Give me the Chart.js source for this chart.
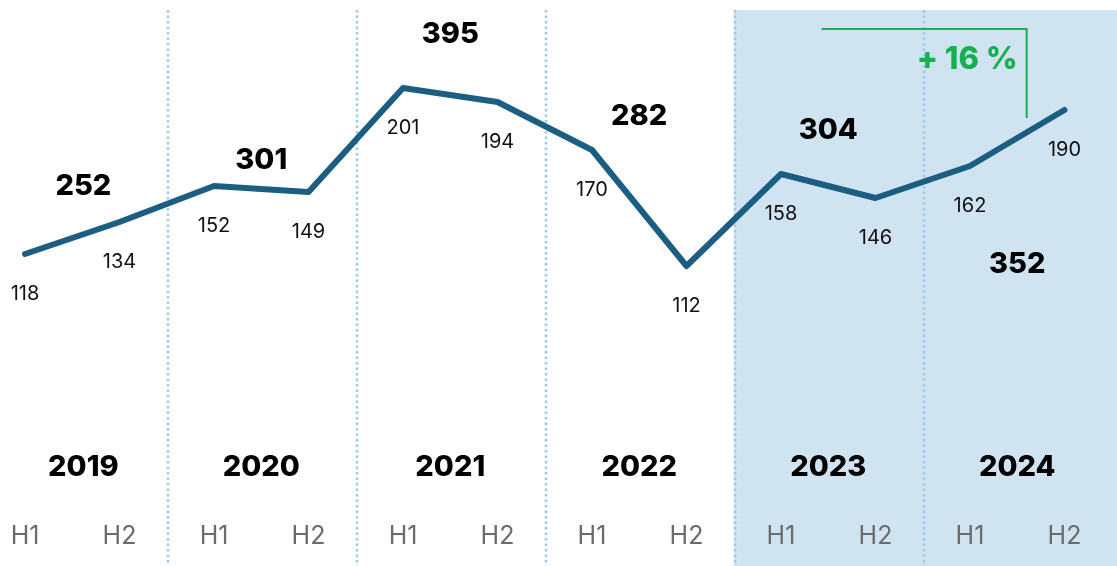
<!DOCTYPE html>
<html>
<head>
<meta charset="utf-8">
<script src="https://cdn.jsdelivr.net/npm/chart.js@4"></script>
<style>
  html, body { margin: 0; padding: 0; background: #fff; }
  #wrap { width: 1117px; height: 566px; }
</style>
</head>
<body>
<div id="wrap"><canvas id="halfYearChart" width="1117" height="566"></canvas></div>
<script>
// Halbjahreswerte
const halfLabels = ['H1', 'H2', 'H1', 'H2', 'H1', 'H2', 'H1', 'H2', 'H1', 'H2', 'H1', 'H2'];
const halfValues = [118, 134, 152, 149, 201, 194, 170, 112, 158, 146, 162, 190];

// Jahressummen
const years = ['2019', '2020', '2021', '2022', '2023', '2024'];
const yearTotals = [252, 301, 395, 282, 304, 352];
const totalLabelLevel = [152, 165, 228, 187, 180, 113]; // y-Position der Summen (Datenwerte)

const growthText = '+ 16 %';

const lineColor = '#1b5e82';
const shadeColor = '#cfe3f1';
const gridColor = '#9fcbea';
const green = '#17b050';

const ctx = document.getElementById('halfYearChart');

const overlay = {
  id: 'overlay',
  beforeDatasetsDraw(chart) {
    const { ctx, chartArea, scales: { x, y } } = chart;
    ctx.save();
    // markierter Bereich 2023/2024
    ctx.fillStyle = shadeColor;
    ctx.fillRect(x.getPixelForValue(7.5), 10, chartArea.right - x.getPixelForValue(7.5), chartArea.bottom - 10);
    // gepunktete Jahrestrenner
    ctx.strokeStyle = gridColor;
    ctx.lineWidth = 2.5;
    ctx.setLineDash([2.5, 3]);
    for (let i = 1; i < years.length; i++) {
      const px = Math.round(x.getPixelForValue(i * 2 - 0.5)) + 1;
      ctx.beginPath();
      ctx.moveTo(px, 10);
      ctx.lineTo(px, chartArea.bottom);
      ctx.stroke();
    }
    ctx.restore();
  },
  afterDatasetsDraw(chart) {
    const { ctx, chartArea, scales: { x, y } } = chart;
    ctx.save();
    ctx.textAlign = 'center';
    ctx.textBaseline = 'middle';

    // Werte unter den Punkten
    ctx.fillStyle = '#111';
    ctx.font = '400 20px Inter';
    halfValues.forEach((v, i) => {
      ctx.fillText(String(v), x.getPixelForValue(i), y.getPixelForValue(v) + 40);
    });

    // H1 / H2
    ctx.fillStyle = '#6b6b6b';
    ctx.font = '400 25px Inter';
    halfLabels.forEach((l, i) => {
      ctx.fillText(l, x.getPixelForValue(i), chartArea.bottom - 30);
    });

    // Jahre und Summen
    ctx.fillStyle = '#000';
    ctx.font = '800 29px Inter';
    years.forEach((yr, i) => {
      const cx = i === 0 ? (chartArea.left + x.getPixelForValue(1.5)) / 2 : x.getPixelForValue(i * 2 + 0.5);
      ctx.fillText(yr, cx, chartArea.bottom - 99);
      ctx.fillText(String(yearTotals[i]), cx, y.getPixelForValue(totalLabelLevel[i]));
    });

    // Wachstum
    ctx.strokeStyle = green;
    ctx.lineWidth = 2;
    ctx.beginPath();
    ctx.moveTo(x.getPixelForValue(8.43), y.getPixelForValue(230.5));
    ctx.lineTo(x.getPixelForValue(10.6), y.getPixelForValue(230.5));
    ctx.lineTo(x.getPixelForValue(10.6), y.getPixelForValue(186));
    ctx.stroke();
    ctx.fillStyle = green;
    ctx.font = '800 31px Inter';
    ctx.fillText(growthText, x.getPixelForValue(9.97), y.getPixelForValue(215));
    ctx.restore();
  }
};

new Chart(ctx, {
  type: 'line',
  data: {
    datasets: [{
      data: halfValues.map((v, i) => ({ x: i, y: v })),
      borderColor: lineColor,
      borderWidth: 6,
      borderCapStyle: 'round',
      borderJoinStyle: 'round',
      pointRadius: 0,
      tension: 0,
      clip: false
    }]
  },
  options: {
    responsive: false,
    animation: false,
    layout: { padding: 0 },
    scales: {
      x: { type: 'linear', min: -0.265, max: 11.556, display: false },
      y: { min: -38, max: 245, display: false }
    },
    plugins: {
      legend: { display: false },
      tooltip: { enabled: false }
    }
  },
  plugins: [overlay]
});
</script>
</body>
</html>
